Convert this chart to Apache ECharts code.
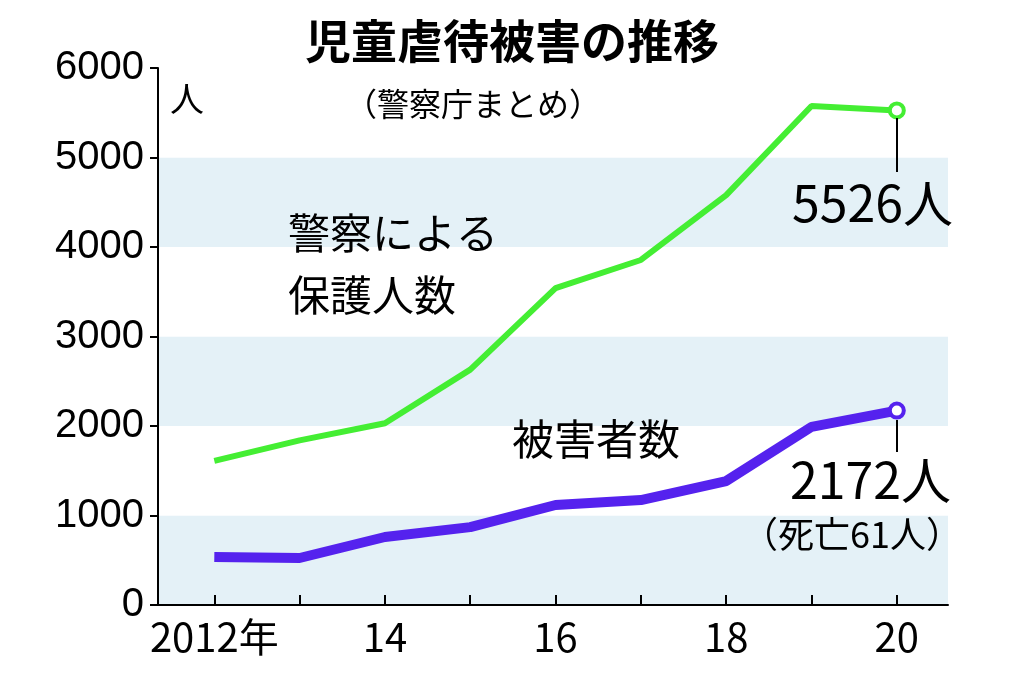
<!DOCTYPE html>
<html><head><meta charset="utf-8">
<script src="https://cdn.jsdelivr.net/npm/echarts@6/dist/echarts.min.js"></script>
<style>html,body{margin:0;padding:0;background:#fff}#c{width:1024px;height:678px}</style>
</head><body><div id="c"></div>
<script>
const years=[2012,2013,2014,2015,2016,2017,2018,2019,2020];
const protectedKids=[1610,1840,2030,2630,3540,3855,4580,5575,5526];
const victims=[536,525,760,870,1117,1173,1385,1990,2172];
const xLabelYears=[2012,2014,2016,2018,2020];
const xLabelText={2012:'2012年',2014:'14',2016:'16',2018:'18',2020:'20'};
const F='"Noto Sans CJK JP","Liberation Sans",sans-serif';
const chart=echarts.init(document.getElementById('c'));
function pts(arr){return arr.map((v,i)=>[years[i],v]);}
function lastSym(v,p){return p.dataIndex===years.length-1?14:0;}
function txt(x,y,t,size,extra){return {type:'text',x:x,y:y,z:100,style:Object.assign({text:t,fontSize:size,fontFamily:F,fill:'#000'},extra||{})};}
chart.setOption({
 animation:false,
 grid:{left:158,right:76,top:68,bottom:73},
 xAxis:{type:'value',min:2011.34,max:2020.6,
  axisLine:{lineStyle:{color:'#000',width:2}},
  axisTick:{show:true,inside:true,length:10,lineStyle:{color:'#000',width:2},customValues:years},
  axisLabel:{customValues:xLabelYears,formatter:v=>xLabelText[v]||'',color:'#000',fontSize:40,fontFamily:F,margin:12},
  splitLine:{show:false}},
 yAxis:{type:'value',min:0,max:6000,interval:1000,
  axisLine:{show:true,lineStyle:{color:'#000',width:2}},
  axisTick:{show:true,length:8,lineStyle:{color:'#000',width:2}},
  axisLabel:{formatter:v=>String(v),color:'#000',fontSize:40,fontFamily:'"Liberation Sans",sans-serif',margin:14},
  splitLine:{show:false},
  splitArea:{show:true,areaStyle:{color:['#e4f1f7','#ffffff']}}},
 series:[
  {type:'line',data:pts(protectedKids),lineStyle:{color:'#44ee33',width:6},itemStyle:{color:'#fff',borderColor:'#44ee33',borderWidth:4},
   symbol:'circle',symbolSize:lastSym,showSymbol:true,z:3},
  {type:'line',data:pts(victims),lineStyle:{color:'#5522ee',width:10},itemStyle:{color:'#fff',borderColor:'#5522ee',borderWidth:4},
   symbol:'circle',symbolSize:lastSym,showSymbol:true,z:3}
 ],
 graphic:{elements:[
  {type:'text',left:'center',top:18,z:100,style:{text:'児童虐待被害の推移',fontSize:46,fontWeight:'bold',fontFamily:F,fill:'#000'}},
  txt(345,88,'（警察庁まとめ）',32),
  txt(170,82,'人',34),
  txt(288,202,'警察による\n保護人数',42,{lineHeight:62}),
  txt(512,418,'被害者数',42),
  {type:'line',z:100,shape:{x1:897,y1:118,x2:897,y2:172},style:{stroke:'#000',lineWidth:2}},
  txt(792,178,'5526人',50),
  {type:'line',z:100,shape:{x1:897,y1:420,x2:897,y2:452},style:{stroke:'#000',lineWidth:2}},
  txt(790,455,'2172人',50),
  txt(742,516,'（死亡61人）',36)
 ]}
});
</script></body></html>
